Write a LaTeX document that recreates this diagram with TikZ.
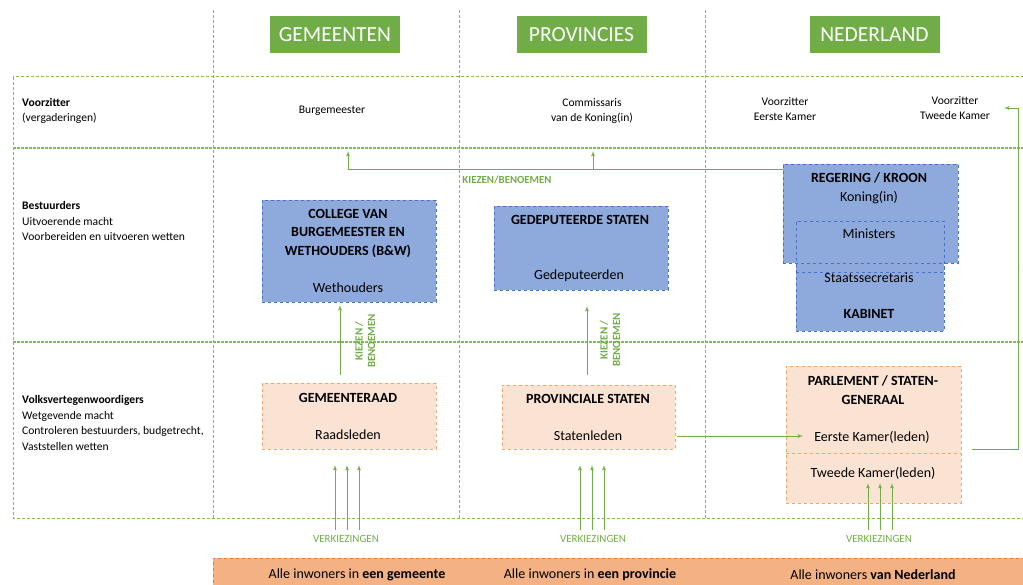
\documentclass[tikz,border=0pt]{standalone}
\usepackage{fontspec}
\setmainfont{Carlito}
\usepackage{tikz}
\usetikzlibrary{arrows}
\usetikzlibrary{calc}

\definecolor{hgreen}{HTML}{70AD47}
\definecolor{lgreen}{HTML}{7DBF55}
\definecolor{bfill}{HTML}{8EA9DB}
\definecolor{bline}{HTML}{4A72C4}
\definecolor{pfill}{HTML}{FBE3D3}
\definecolor{pline}{HTML}{F2A46E}
\definecolor{ofill}{HTML}{F4B183}
\definecolor{oline}{HTML}{E07B39}

\newcommand{\rowfont}{\fontsize{11.6}{15.5}\selectfont}
\newcommand{\boxfont}{\fontsize{14}{18.5}\selectfont}

\begin{document}
\begin{tikzpicture}[x=1pt,y=-1pt]
      \tikzset{grid/.style = {draw=lgreen,line width=1pt,dash pattern=on 3pt off 2pt}}
      \tikzset{band/.style = {draw=lgreen,line width=2.6pt,dash pattern=on 2.5pt off 1.5pt}}
      \tikzset{header/.style = {fill=hgreen,text=white,minimum width=130pt,minimum height=37pt,inner sep=0pt,font=\fontsize{21.5}{24}\selectfont}}
      \tikzset{bluebox/.style = {shape=rectangle,draw=bline,fill=bfill,dashed,line width=0.8pt,inner sep=0pt}}
      \tikzset{peachbox/.style = {shape=rectangle,draw=pline,fill=pfill,dashed,line width=0.9pt,inner sep=0pt}}
      \tikzset{txt/.style = {inner sep=0pt,align=center,font=\rowfont}}
      \tikzset{boxtxt/.style = {inner sep=0pt,align=center,font=\boxfont}}
      \tikzset{keuze/.style = {inner sep=0pt,text=hgreen,font=\fontsize{10.8}{12}\selectfont\bfseries}}
      \tikzset{upkeuze/.style = {keuze,align=center,rotate=90,font=\fontsize{11}{12.5}\selectfont\bfseries}}
      \tikzset{vote/.style = {inner sep=0pt,text=hgreen,font=\fontsize{11}{12}\selectfont}}
      \tikzset{edge/.style = {draw=hgreen,line width=0.9pt,-latex'}}

      \useasboundingbox (0,0) rectangle (1023,585);

      \draw[grid] (13,77) rectangle (1040,518);
      \foreach \x in {213,459,705}
        \draw[grid] (\x,10) -- (\x,518);
      \foreach \y in {148,342}
        \draw[band] (13,\y) -- (1040,\y);

      \node[header] (gem) at (335,34.5) {GEMEENTEN};
      \node[header] (prov) at (581.5,34.5) {PROVINCIES};
      \node[header] (nl) at (874.5,34.5) {NEDERLAND};

      \node[txt,anchor=west,align=left] (rvoorz) at (22,111) {\textbf{Voorzitter}\\(vergaderingen)};
      \node[txt,anchor=west,align=left] (rbest) at (22,221) {\textbf{Bestuurders}\\Uitvoerende macht\\Voorbereiden en uitvoeren wetten};
      \node[txt,anchor=west,align=left] (rvolk) at (22,423) {\textbf{Volksvertegenwoordigers}\\Wetgevende macht\\Controleren bestuurders, budgetrecht,\\Vaststellen wetten};

      \node[txt] (burg) at (332,111) {Burgemeester};
      \node[txt] (cdk) at (592,111) {Commissaris\\van de Koning(in)};
      \node[txt] (vzek) at (785,109) {Voorzitter\\Eerste Kamer};
      \node[txt] (vztk) at (955,108) {Voorzitter\\Tweede Kamer};

      \node[bluebox,minimum width=174pt,minimum height=102pt] (college) at (349,251) {};
      \node[boxtxt,font=\boxfont\bfseries] (collegetitle) at (348,233) {COLLEGE VAN\\BURGEMEESTER EN\\WETHOUDERS (B\&W)};
      \node[boxtxt] (weth) at (348,288) {Wethouders};

      \node[bluebox,minimum width=174pt,minimum height=84pt] (gedep) at (581,248) {};
      \node[boxtxt,font=\boxfont\bfseries] (gedeptitle) at (580,220) {GEDEPUTEERDE STATEN};
      \node[boxtxt] (gedepleden) at (579,276) {Gedeputeerden};

      \node[bluebox,minimum width=148pt,minimum height=110pt] (kabinet) at (870,276) {};
      \node[bluebox,minimum width=175pt,minimum height=99pt] (regering) at (870.5,213.5) {};
      \node[shape=rectangle,draw=bline,dashed,line width=0.8pt,minimum width=148pt,minimum height=51pt,inner sep=0pt] (ministers) at (870,246.5) {};
      \node[boxtxt,font=\boxfont\bfseries] (regtitle) at (869,178) {REGERING / KROON};
      \node[boxtxt] (koning) at (869,198) {Koning(in)};
      \node[boxtxt] (ministerstxt) at (869,234) {Ministers};
      \node[boxtxt] (staatssecr) at (869,278) {Staatssecretaris};
      \node[boxtxt,font=\boxfont\bfseries] (kabtitle) at (869,314) {KABINET};

      \node[peachbox,minimum width=174pt,minimum height=66pt] (gemraad) at (349,416) {};
      \node[boxtxt,font=\boxfont\bfseries] (gemraadtitle) at (348,398) {GEMEENTERAAD};
      \node[boxtxt] (raadsleden) at (348,435) {Raadsleden};

      \node[peachbox,minimum width=173pt,minimum height=64pt] (provstaten) at (588.5,417) {};
      \node[boxtxt,font=\boxfont\bfseries] (provtitle) at (588,399) {PROVINCIALE STATEN};
      \node[boxtxt] (statenleden) at (588,436) {Statenleden};

      \node[peachbox,minimum width=175pt,minimum height=137pt] (parlement) at (873.5,434.5) {};
      \draw[draw=pline,dashed,line width=0.9pt] (parlement.west |- 0,453) -- (parlement.east |- 0,453);
      \node[boxtxt,font=\fontsize{14}{19}\selectfont\bfseries] (parltitle) at (873,390.5) {PARLEMENT / STATEN-\\GENERAAL};
      \node[boxtxt] (eerste) at (872,437) {Eerste Kamer(leden)};
      \node[boxtxt] (tweede) at (873,473) {Tweede Kamer(leden)};

      \node[draw=oline,fill=ofill,dashed,line width=0.9pt,minimum width=830pt,minimum height=34pt,inner sep=0pt,anchor=north west] (inwoners) at (213,558) {};
      \node[boxtxt] (allegem) at (357,575) {Alle inwoners in \textbf{een gemeente}};
      \node[boxtxt] (alleprov) at (590,575) {Alle inwoners in \textbf{een provincie}};
      \node[boxtxt] (allenl) at (873,575) {Alle inwoners \textbf{van Nederland}};

      \coordinate (kb) at (783,169);
      \coordinate (burgin) at (348,151);
      \coordinate (cdkin) at (593,151);
      \draw[edge] (kb) -| (burgin);
      \draw[edge] (593,169) -- (cdkin);
      \node[keuze] (kbtxt) at (507,180) {KIEZEN/BENOEMEN};

      \coordinate (gemup) at (340,375);
      \coordinate (provup) at (587,375);
      \draw[edge] (gemup) -- (340,305);
      \draw[edge] (provup) -- (587,306);
      \node[upkeuze] (kbgem) at (365,341) {KIEZEN /\\BENOEMEN};
      \node[upkeuze] (kbprov) at (610,340) {KIEZEN /\\BENOEMEN};

      \coordinate (stout) at (677,436);
      \coordinate (ekin) at (803,436);
      \draw[edge] (stout) -- (ekin);

      \coordinate (parlout) at (972,449);
      \coordinate (tkin) at (1004,108);
      \draw[edge] (parlout) -- (1018,449) -- (1018,108) -- (tkin);
      \node[upkeuze] (kbtk) at (1027,262) {KIEZEN/BENOEMEN};

      \foreach \x in {335,347,359}
        \draw[edge] (\x,530) -- (\x,465);
      \foreach \x in {580,592,604}
        \draw[edge] (\x,530) -- (\x,465);
      \foreach \x in {868,880,892}
        \draw[edge] (\x,530) -- (\x,483);
      \node[vote] (vkgem) at (346,539) {VERKIEZINGEN};
      \node[vote] (vkprov) at (593,539) {VERKIEZINGEN};
      \node[vote] (vknl) at (879,539) {VERKIEZINGEN};
\end{tikzpicture}
\end{document}
